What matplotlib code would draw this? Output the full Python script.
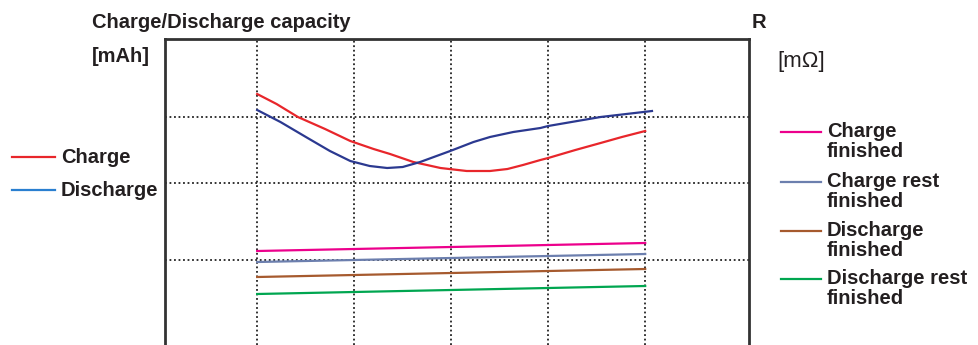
import matplotlib
matplotlib.use('Agg')
import matplotlib.pyplot as plt
from matplotlib.lines import Line2D

plt.rcParams['font.family'] = ['Liberation Sans', 'DejaVu Sans']

W, H = 979, 345

# capacity curves (arbitrary units)
charge_x = [1.0, 1.2, 1.42, 1.7, 1.96, 2.2, 2.37, 2.61, 2.89, 3.16, 3.40, 3.58,
            3.74, 3.92, 4.0, 4.28, 4.54, 4.76, 5.0]
charge_y = [251, 241, 228, 216, 204, 196, 191, 183, 177, 174, 174, 176,
            180, 185, 187, 195, 202, 208, 214]
discharge_x = [1.0, 1.24, 1.52, 1.75, 1.96, 2.16, 2.34, 2.5, 2.68, 2.99, 3.23,
               3.40, 3.64, 3.92, 4.0, 4.54, 5.07]
discharge_y = [235, 223, 207, 194, 184, 179, 177, 178, 183, 194, 203,
               208, 213, 217, 219, 228, 234]

# resistance lines
r_x = [1.0, 3.0, 5.0]
charge_fin = [94, 98, 102]
charge_rest = [83, 87, 91]
discharge_fin = [68, 72, 76]
discharge_rest = [51, 55, 59]

red = '#e8262b'
navy = '#2b3990'
blue_leg = '#2a7fd0'
pink = '#ec008c'
greyblue = '#6c7fae'
brown = '#a65a2e'
green = '#00a650'
txt = '#231f20'

fig = plt.figure(figsize=(W / 100, H / 100), dpi=100)
ax = fig.add_axes([165 / W, 0, (749 - 165) / W, 1 - 39 / H])
ax.set_xlim(0.05, 6.07)
ax.set_ylim(0, 306)

for x in [1, 2, 3, 4, 5]:
    ax.axvline(x, color='#222222', lw=1.3, ls=(0, (1, 1.5)), zorder=1)
for y in [85, 162, 228]:
    ax.axhline(y, color='#222222', lw=1.3, ls=(0, (1, 1.5)), zorder=1)

ax.plot(r_x, charge_fin, color=pink, lw=1.6, zorder=3)
ax.plot(r_x, charge_rest, color=greyblue, lw=1.6, zorder=3)
ax.plot(r_x, discharge_fin, color=brown, lw=1.6, zorder=3)
ax.plot(r_x, discharge_rest, color=green, lw=1.6, zorder=3)
ax.plot(charge_x, charge_y, color=red, lw=1.6, zorder=3)
ax.plot(discharge_x, discharge_y, color=navy, lw=1.6, zorder=3)

ax.set_xticks([])
ax.set_yticks([])
for s in ['left', 'right', 'top']:
    ax.spines[s].set_linewidth(2)
    ax.spines[s].set_color('#333333')
ax.spines['bottom'].set_visible(False)

FS = 14.5

def ftext(x, y, s, bold=True, size=FS):
    fig.text(x / W, 1 - y / H, s, fontsize=size, color=txt, va='center', ha='left',
             fontweight='bold' if bold else 'normal')

ftext(92, 22, 'Charge/Discharge capacity')
ftext(92, 56, '[mAh]')
ftext(752, 22, 'R')
ftext(777, 62, '[mΩ]', bold=False, size=16)

def legline(x0, x1, y, c):
    fig.add_artist(Line2D([x0 / W, x1 / W], [1 - y / H, 1 - y / H], color=c, lw=1.6))

legline(12, 55, 157, red)
ftext(61, 158, 'Charge')
legline(12, 55, 190, blue_leg)
ftext(61, 191, 'Discharge')

right = [
    (132, pink, 'Charge', 'finished'),
    (182, greyblue, 'Charge rest', 'finished'),
    (231, brown, 'Discharge', 'finished'),
    (279, green, 'Discharge rest', 'finished'),
]
for y, c, s1, s2 in right:
    legline(781, 821, y, c)
    ftext(827, y - 0.5, s1)
    ftext(827, y + 19.5, s2)

fig.savefig('out.png', dpi=100)
